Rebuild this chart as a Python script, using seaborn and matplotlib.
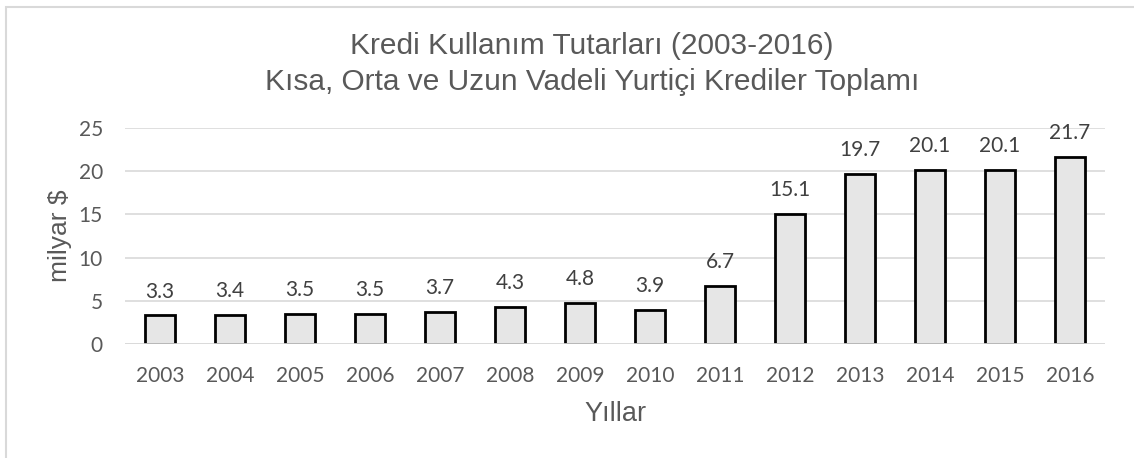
import matplotlib
matplotlib.use("Agg")
import matplotlib.pyplot as plt
import seaborn as sns
import pandas as pd
from matplotlib.patches import Rectangle

years = ["2003", "2004", "2005", "2006", "2007", "2008", "2009", "2010",
         "2011", "2012", "2013", "2014", "2015", "2016"]
values = [3.3, 3.4, 3.5, 3.5, 3.7, 4.3, 4.8, 3.9, 6.7, 15.1, 19.7, 20.1, 20.1, 21.7]
yticks = [0, 5, 10, 15, 20, 25]
title = "Kredi Kullanım Tutarları (2003-2016)\nKısa, Orta ve Uzun Vadeli Yurtiçi Krediler Toplamı"

sns.set_theme(style="white")
plt.rcParams['font.family'] = ['Liberation Sans', 'DejaVu Sans']

df = pd.DataFrame({"year": years, "value": values})

fig = plt.figure(figsize=(11.34, 4.58), dpi=100)
ax = fig.add_axes([125/1134, 1 - 344/458, 980/1134, (344 - 128)/458])

sns.barplot(data=df, x="year", y="value", ax=ax, color="#e6e6e6",
            edgecolor="black", linewidth=2, width=0.42, saturation=1, zorder=3)

ax.set_ylim(0, 25)
ax.set_xlim(-0.5, len(years) - 0.5)
ax.set_yticks(yticks)
ax.yaxis.grid(True, color="#d9d9d9", linewidth=1.2, zorder=0)
ax.set_axisbelow(True)
for s in ax.spines.values():
    s.set_visible(False)
ax.axhline(0, color="#d9d9d9", linewidth=1.2, zorder=4)

ax.tick_params(axis="both", length=0, colors="#595959", labelsize=15)
for lab in ax.get_xticklabels() + ax.get_yticklabels():
    lab.set_fontfamily("Lato")
ax.tick_params(axis="x", pad=16)
ax.tick_params(axis="y", pad=16)

for i, v in enumerate(values):
    ax.annotate(f"{v:.1f}", (i, v), xytext=(0, 10), textcoords="offset points",
                ha="center", va="bottom", fontsize=15, color="#404040",
                fontfamily="Lato")

ax.set_xlabel("Yıllar", fontsize=19.5, color="#595959")
ax.set_ylabel("milyar $", fontsize=19, color="#595959")
ax.xaxis.set_label_coords(0.5, (344 - 401) / 216)
ax.yaxis.set_label_coords((72 - 125) / 980, 0.5)

fig.text(592/1134, 1 - 64/458, title, ha="center", va="center",
         fontsize=21.5, color="#595959", linespacing=1.32)

fig.patches.append(Rectangle((6/1134, -0.1), 1.2, 1 - 7/458 + 0.1,
                             transform=fig.transFigure, fill=False,
                             edgecolor="#d9d9d9", linewidth=1.5))

fig.savefig("out.png", dpi=100)
